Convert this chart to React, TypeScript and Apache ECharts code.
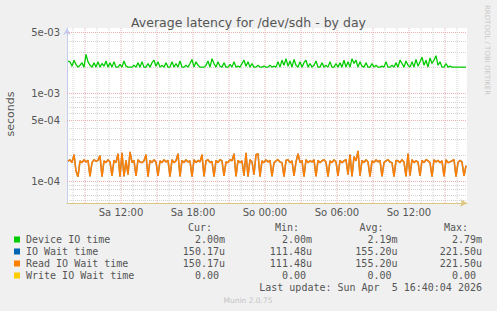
import React, { useEffect, useRef } from "react";
import * as echarts from "echarts";

// ---- data ----
const seriesNames = ["Device IO time", "IO Wait time", "Read IO Wait time", "Write IO Wait time"];
const seriesColors = ["#00cc00", "#0066b3", "#ff8000", "#ffcc00"];

// Device IO time in milliseconds, one point per 10 minutes
const deviceIoMs = [
  2.35, 2.30, 2.05, 2.40, 2.15, 2.00, 2.10, 2.25, 2.00, 2.79, 2.30, 2.10, 2.00, 2.25, 2.00, 2.30, 2.00, 2.20, 2.05, 2.35,
  2.00, 2.25, 2.00, 2.30, 2.00, 2.00, 2.15, 2.00, 2.35, 2.05, 2.00, 2.00, 2.00, 2.10, 2.00, 2.25, 2.00, 2.30, 2.00, 2.00,
  2.20, 2.00, 2.25, 2.40, 2.05, 2.30, 2.00, 2.10, 2.00, 2.25, 2.00, 2.00, 2.30, 2.00, 2.20, 2.00, 2.35, 2.00, 2.00, 2.10,
  2.00, 2.20, 2.45, 2.00, 2.30, 2.10, 2.00, 2.00, 2.00, 2.10, 2.35, 2.00, 2.50, 2.20, 2.00, 2.30, 2.05, 2.00, 2.25, 2.00,
  2.00, 2.15, 2.00, 2.30, 2.00, 2.05, 2.00, 2.20, 2.40, 2.05, 2.30, 2.00, 2.20, 2.00, 2.00, 2.10, 2.00, 2.00, 2.05, 2.00,
  2.00, 2.10, 2.00, 2.05, 2.00, 2.30, 2.00, 2.40, 2.10, 2.50, 2.05, 2.35, 2.00, 2.45, 2.10, 2.00, 2.30, 2.00, 2.25, 2.40,
  2.00, 2.20, 2.00, 2.10, 2.35, 2.00, 2.00, 2.25, 2.00, 2.10, 2.00, 2.30, 2.00, 2.00, 2.20, 2.00, 2.25, 2.00, 2.40, 2.00,
  2.30, 2.00, 2.50, 2.20, 2.40, 2.00, 2.30, 2.05, 2.00, 2.25, 2.00, 2.00, 2.20, 2.00, 2.10, 2.00, 2.00, 2.05, 2.00, 2.30,
  2.00, 2.00, 2.10, 2.00, 2.25, 2.00, 2.40, 2.20, 2.00, 2.35, 2.10, 2.00, 2.30, 2.00, 2.45, 2.05, 2.30, 2.60, 2.10, 2.40,
  2.00, 2.55, 2.20, 2.40, 2.70, 2.10, 2.30, 2.00, 2.00, 2.20, 2.00, 2.05, 2.00, 2.00, 2.00, 2.00, 2.00, 2.00, 2.00, 2.00,
];

// Read IO Wait time in microseconds
const readWaitUs = [
  168, 175, 162, 200, 130, 112, 170, 162, 175, 165, 172, 113, 162, 175, 168, 172, 195, 112, 170, 162,
  175, 165, 115, 172, 162, 205, 112, 210, 113, 172, 118, 215, 162, 172, 114, 175, 165, 162, 170, 200,
  112, 172, 162, 175, 165, 114, 170, 162, 175, 165, 172, 112, 175, 162, 170, 205, 113, 172, 162, 175,
  165, 170, 112, 175, 162, 172, 165, 200, 113, 170, 175, 162, 168, 112, 172, 162, 175, 170, 114, 165,
  162, 175, 170, 205, 113, 172, 162, 170, 115, 210, 112, 175, 165, 118, 200, 205, 112, 170, 162, 175,
  165, 172, 113, 162, 170, 175, 165, 162, 112, 172, 175, 162, 170, 114, 165, 205, 162, 172, 112, 175,
  162, 170, 165, 175, 113, 172, 162, 170, 175, 165, 112, 170, 162, 175, 165, 114, 172, 162, 170, 175,
  118, 200, 113, 190, 170, 221, 115, 172, 162, 175, 165, 112, 170, 162, 175, 165, 172, 113, 162, 170,
  175, 165, 162, 112, 172, 170, 162, 175, 165, 113, 205, 115, 175, 162, 170, 165, 114, 172, 162, 175,
  170, 162, 112, 175, 165, 172, 162, 170, 113, 175, 162, 165, 170, 175, 112, 162, 172, 165, 114, 150,
];

// IO Wait time equals Read IO Wait time (identical stats)
const ioWaitUs = readWaitUs.slice();

const startHour = 7.5; // Sa 07:30
const endHour = 40.8333; // So 16:50
const stepHour = 1 / 6;
const yMin = 5.6e-5;
const yMax = 5.6e-3;

const xTickHours = [12, 18, 24, 30, 36];
const xMinorGridHours = [8, 10, 11, 13, 14, 16, 17, 19, 20, 22, 23, 25, 26, 28, 29, 31, 32, 34, 35, 37, 38, 40];
const xMajorGridHours = [9, 12, 15, 18, 21, 24, 27, 30, 33, 36, 39];
const yMajorTicks = [5e-3, 1e-3, 5e-4, 1e-4];
const yMajorLabels = ["5e-03", "1e-03", "5e-04", "1e-04"];
const yMinorTicks = [4e-3, 3e-3, 2e-3, 9e-4, 8e-4, 7e-4, 6e-4, 4e-4, 3e-4, 2e-4, 9e-5, 8e-5, 7e-5, 6e-5];

const curValues = ["2.00m", "150.17u", "150.17u", "0.00"];
const minValues = ["2.00m", "111.48u", "111.48u", "0.00"];
const avgValues = ["2.19m", "155.20u", "155.20u", "0.00"];
const maxValues = ["2.79m", "221.50u", "221.50u", "0.00"];
const lastUpdate = "Last update: Sun Apr  5 16:40:04 2026";

export default function App() {
  const ref = useRef<HTMLDivElement>(null);
  useEffect(() => {
    if (!ref.current) return;
    const chart = echarts.init(ref.current, null, { renderer: "svg" });
    const xs = deviceIoMs.map((_, i) => startHour + (i + 0.5) * stepHour);
    const red = "#eeb0b0";
    const gray = "#d2d2d2";
    const mono = "DejaVu Sans Mono";
    const sans = "DejaVu Sans";
    const txt = "#555";

    // horizontal grid items: [x, y, kind, labelIndex]  kind 0 minor, 1 major
    const hGridData: any[] = [];
    yMinorTicks.forEach((v) => hGridData.push([startHour, v, 0, -1]));
    yMajorTicks.forEach((v, i) => hGridData.push([startHour, v, 1, i]));

    const vSegments = (hours: number[]) => {
      const out: any[] = [];
      hours.forEach((h) => {
        out.push([h, yMin]);
        out.push([h, yMax]);
        out.push([h, "-"]);
      });
      return out;
    };

    const renderHGrid = (params: any, api: any) => {
      const cs = params.coordSys;
      const kind = api.value(2);
      const idx = api.value(3);
      const p = api.coord([api.value(0), api.value(1)]);
      const y = Math.round(p[1]) + 0.5;
      const children: any[] = [
        {
          type: "line",
          shape: { x1: cs.x, y1: y, x2: cs.x + cs.width, y2: y },
          style: { stroke: kind === 1 ? red : gray, lineWidth: 1, lineDash: [1, 1] },
        },
      ];
      if (kind === 1 && idx >= 0) {
        children.push({
          type: "text",
          x: cs.x - 7,
          y: y,
          style: {
            text: yMajorLabels[idx],
            textAlign: "right",
            textVerticalAlign: "middle",
            fill: txt,
            fontSize: 10,
            fontFamily: sans,
          },
        });
      }
      return { type: "group", children };
    };

    const rowY = [239.5, 251.5, 263.5, 275.5];
    const cols = [
      { head: "Cur:", headRight: 212, right: 225, vals: curValues },
      { head: "Min:", headRight: 299, right: 312, vals: minValues },
      { head: "Avg:", headRight: 383.5, right: 397.5, vals: avgValues },
      { head: "Max:", headRight: 468, right: 482, vals: maxValues },
    ];
    const graphics: any[] = [];
    const tstyle = (extra: any) => ({ fill: txt, fontFamily: mono, fontSize: 10, textVerticalAlign: "middle", ...extra });
    cols.forEach((c) => {
      graphics.push({ type: "text", x: c.headRight, y: 227.5, style: tstyle({ text: c.head, textAlign: "right" }) });
      c.vals.forEach((v, i) => {
        const hasSuffix = /[a-z]$/i.test(v);
        graphics.push({
          type: "text",
          x: hasSuffix ? c.right : c.right - 6,
          y: rowY[i],
          style: tstyle({ text: v, textAlign: "right" }),
        });
      });
    });
    seriesNames.forEach((n, i) => {
      graphics.push({ type: "rect", shape: { x: 14, y: rowY[i] - 3, width: 6, height: 6 }, style: { fill: seriesColors[i] } });
      graphics.push({ type: "text", x: 26, y: rowY[i], style: tstyle({ text: n, textAlign: "left" }) });
    });
    graphics.push({ type: "text", x: 482, y: 287.5, style: tstyle({ text: lastUpdate, textAlign: "right" }) });
    graphics.push({
      type: "text",
      x: 248,
      y: 300,
      style: { text: "Munin 2.0.75", fill: "#c4c4c4", fontFamily: sans, fontSize: 7.5, textAlign: "center", textVerticalAlign: "middle" },
    });
    graphics.push({
      type: "text",
      x: 10,
      y: 114,
      rotation: Math.PI / 2,
      style: { text: "seconds", fill: txt, fontFamily: sans, fontSize: 11, textAlign: "center", textVerticalAlign: "middle" },
    });
    graphics.push({
      type: "text",
      x: 487,
      y: 5,
      rotation: -Math.PI / 2,
      style: { text: "RRDTOOL / TOBI OETIKER", fill: "#c8c8c8", fontFamily: sans, fontSize: 7, textAlign: "left", textVerticalAlign: "middle" },
    });

    chart.setOption({
      animation: false,
      backgroundColor: "#f0f0f0",
      title: {
        text: "Average latency for /dev/sdh - by day",
        left: "center",
        top: 11,
        textStyle: { fontFamily: sans, fontSize: 12.5, fontWeight: "normal", color: "#555" },
      },
      grid: {
        left: 67,
        top: 28,
        width: 400,
        height: 175,
        show: true,
        backgroundColor: "#ffffff",
        borderWidth: 0,
        outerBoundsMode: "none",
      },
      xAxis: {
        type: "value",
        min: startHour,
        max: endHour,
        axisLine: {
          show: true,
          lineStyle: { color: "#dfc67e", width: 1 },
          symbol: ["none", "arrow"],
          symbolSize: [6, 7],
        },
        axisTick: { show: false },
        splitLine: { show: false },
        axisLabel: {
          customValues: xTickHours,
          formatter: (h: number) => {
            const r = Math.round(h);
            const day = r < 24 ? "Sa" : "So";
            const hh = r % 24;
            return `${day} ${hh < 10 ? "0" + hh : hh}:00`;
          },
          color: txt,
          fontSize: 10,
          fontFamily: sans,
          margin: 4,
        },
      },
      yAxis: {
        type: "log",
        logBase: 10,
        min: yMin,
        max: yMax,
        axisLine: {
          show: true,
          lineStyle: { color: "#c4cdf0", width: 1 },
          symbol: ["none", "arrow"],
          symbolSize: [6, 7],
        },
        axisTick: { show: false },
        axisLabel: { show: false },
        splitLine: { show: false },
      },
      graphic: graphics,
      series: [
        {
          type: "line",
          data: vSegments(xMinorGridHours),
          showSymbol: false,
          connectNulls: false,
          silent: true,
          lineStyle: { color: gray, width: 1, type: [1, 1] },
          z: 1,
        },
        {
          type: "line",
          data: vSegments(xMajorGridHours),
          showSymbol: false,
          connectNulls: false,
          silent: true,
          lineStyle: { color: red, width: 1, type: [1, 1] },
          z: 1,
        },
        {
          type: "custom",
          renderItem: renderHGrid,
          data: hGridData,
          encode: { x: 0, y: 1 },
          clip: false,
          silent: true,
          z: 1,
        },
        {
          name: seriesNames[0],
          type: "line",
          showSymbol: false,
          data: deviceIoMs.map((v, i) => [xs[i], v / 1000]),
          lineStyle: { color: seriesColors[0], width: 1.3 },
          z: 3,
        },
        {
          name: seriesNames[1],
          type: "line",
          showSymbol: false,
          data: ioWaitUs.map((v, i) => [xs[i], v / 1e6]),
          lineStyle: { color: "#9a8a7a", width: 1.6 },
          z: 3,
        },
        {
          name: seriesNames[2],
          type: "line",
          showSymbol: false,
          data: readWaitUs.map((v, i) => [xs[i], v / 1e6]),
          lineStyle: { color: seriesColors[2], width: 1.4 },
          z: 4,
        },
      ],
    });
    return () => chart.dispose();
  }, []);
  return <div ref={ref} style={{ position: "fixed", left: 0, top: 0, width: 497, height: 311 }} />;
}
